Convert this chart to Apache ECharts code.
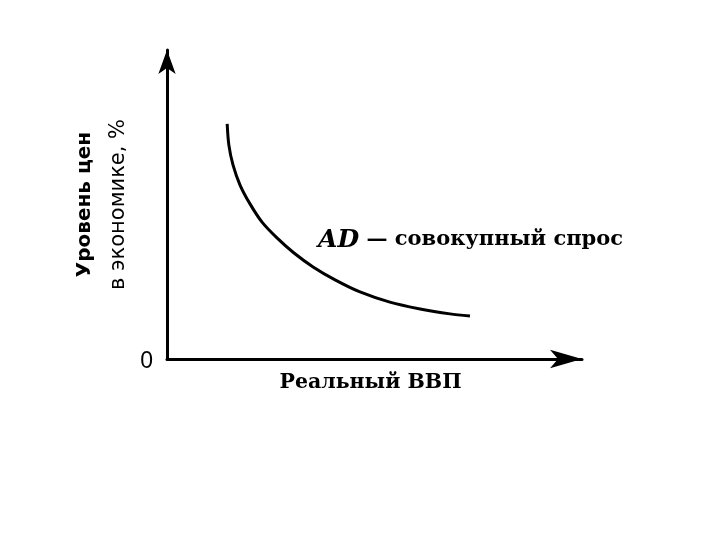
<!DOCTYPE html>
<html>
<head>
<meta charset="utf-8">
<script src="https://cdn.jsdelivr.net/npm/echarts@6/dist/echarts.min.js"></script>
<style>
  html, body { margin: 0; padding: 0; background: #fff; }
  #chart { width: 720px; height: 540px; }
</style>
</head>
<body>
<div id="chart"></div>
<script>
// кривая совокупного спроса AD (условные единицы)
const gdp = [14.5, 14.9, 15.9, 17.6, 20.0, 22.9, 26.5, 30.6, 35.2, 40.5, 46.5, 53.7, 61.0, 68.2, 73.0];
const price = [76.1, 69.3, 62.8, 56.3, 50.2, 44.3, 39.2, 34.3, 29.8, 25.6, 21.7, 18.4, 16.2, 14.6, 13.9];
const labelPos = [36.4, 38.5];
const xName = "Реальный ВВП";
const yName1 = "Уровень цен";
const yName2 = "в экономике, %";

const chartObj = echarts.init(document.getElementById("chart"));
const option = {
  backgroundColor: "#fff",
  animation: false,
  grid: { left: 167, right: 138, top: 50, bottom: 181 },
  xAxis: {
    type: "value",
    min: 0,
    max: 100,
    splitLine: { show: false },
    axisTick: { show: false },
    axisLabel: { show: false },
    axisLine: {
      lineStyle: { color: "#000", width: 3 },
      symbol: ["none", "arrow"],
      symbolSize: [14, 32]
    },
    name: xName,
    nameLocation: "middle",
    nameGap: 13,
    nameTextStyle: {
      fontFamily: "DejaVu Serif",
      fontWeight: "bold",
      fontSize: 20.5,
      color: "#000",
      padding: [0, 8, 0, 0]
    }
  },
  yAxis: {
    type: "value",
    min: 0,
    max: 100,
    interval: 100,
    splitLine: { show: false },
    axisTick: { show: false },
    axisLabel: {
      margin: 14,
      fontFamily: "Liberation Sans",
      fontSize: 23,
      color: "#000",
      verticalAlign: "top",
      lineHeight: 6,
      formatter: function(v) {
        return v === 0 ? "0" : "";
      }
    },
    axisLine: {
      lineStyle: { color: "#000", width: 3 },
      symbol: ["none", "arrow"],
      symbolSize: [13, 24]
    },
    name: "{a|" + yName1 + "}\n{b|" + yName2 + "}",
    nameLocation: "middle",
    nameRotate: 90,
    nameGap: 22,
    nameTextStyle: {
      rich: {
        a: {
          fontFamily: "DejaVu Sans",
          fontWeight: "bold",
          fontSize: 20,
          lineHeight: 34,
          color: "#000"
        },
        b: {
          fontFamily: "DejaVu Sans",
          fontSize: 21,
          lineHeight: 34,
          color: "#000"
        }
      }
    }
  },
  series: [
    {
      type: "line",
      smooth: 0.3,
      symbol: "none",
      lineStyle: { color: "#000", width: 3 },
      data: gdp.map((x, i) => [x, price[i]]),
      markPoint: {
        symbol: "circle",
        symbolSize: 0,
        data: [
          {
            coord: labelPos,
            label: {
              show: true,
              position: "right",
              distance: 0,
              formatter: "{i|AD}{t| — совокупный спрос}",
              rich: {
                i: {
                  fontFamily: "DejaVu Serif",
                  fontStyle: "italic",
                  fontWeight: "bold",
                  fontSize: 25,
                  color: "#000"
                },
                t: {
                  fontFamily: "DejaVu Serif",
                  fontWeight: "bold",
                  fontSize: 21,
                  color: "#000"
                }
              }
            }
          }
        ]
      }
    }
  ]
};
chartObj.setOption(option);
</script>
</body>
</html>
